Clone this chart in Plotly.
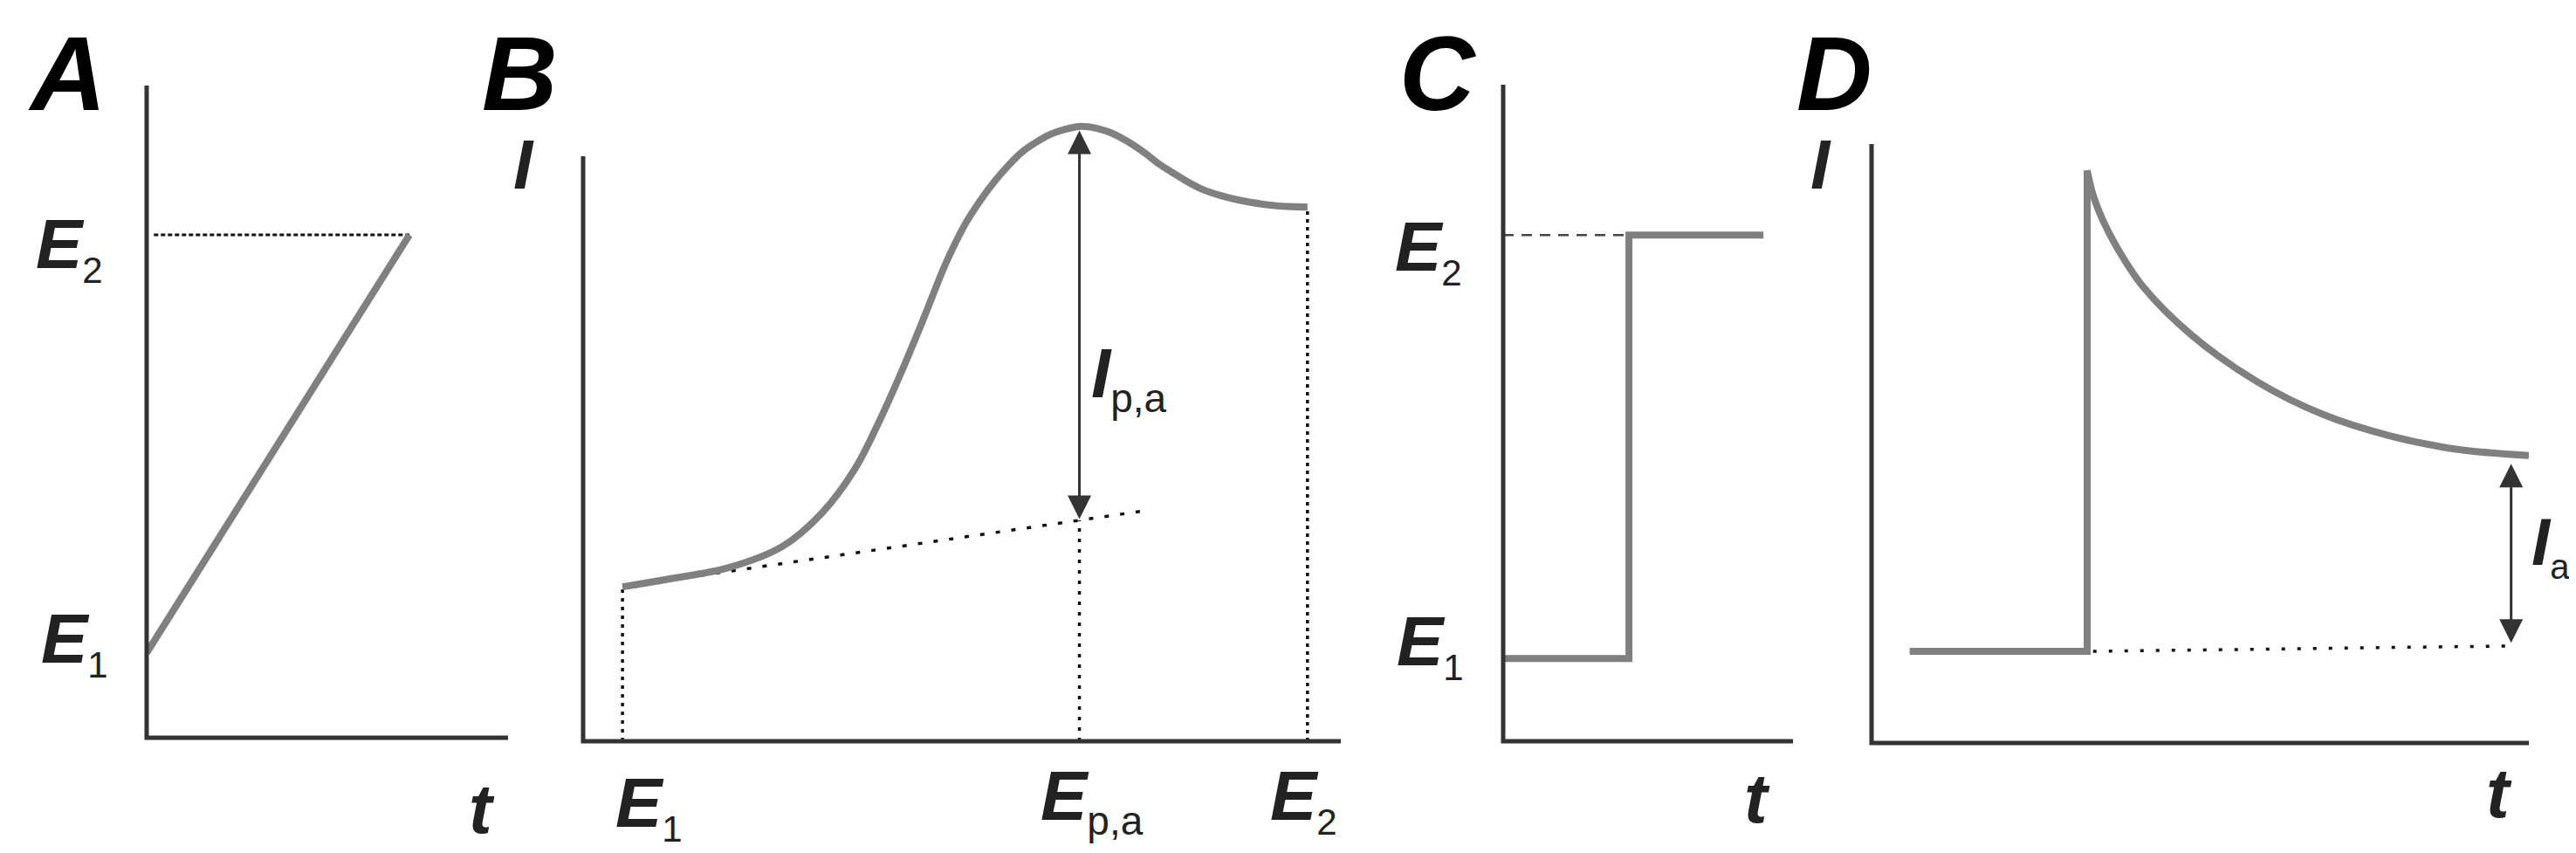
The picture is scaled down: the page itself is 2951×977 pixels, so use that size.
import numpy as np
import plotly.graph_objects as go

W, H = 2951, 977
CURVE = "#808080"
AXIS = "#333333"
INK = "#222222"
FONT = "Liberation Sans, Arial, sans-serif"

# ---- data (values in % of each panel's axis length) ----

# A: linear potential ramp E(t)
ramp_t = [0.0, 72.7]
ramp_E = [13.0, 77.1]

# B: linear sweep voltammogram I(E)
lsv_E = [5.2, 11.6, 19.0, 26.3, 31.5, 35.8, 38.8, 41.7, 44.7, 47.6, 49.1, 50.6,
         52.4, 54.3, 56.1, 57.9, 59.8, 61.6, 63.6, 65.7, 67.7, 69.7, 71.9, 74.1,
         76.0, 77.8, 79.7, 81.8, 84.1, 86.6, 91.0, 95.6]
lsv_I = [26.4, 27.8, 29.6, 33.3, 39.0, 46.4, 53.9, 62.2, 71.5, 80.9, 85.1, 88.8,
         92.4, 95.7, 98.4, 100.7, 102.4, 103.7, 104.6, 105.1, 104.8, 104.0, 102.5, 100.6,
         98.7, 97.2, 95.7, 94.3, 93.3, 92.5, 91.6, 91.3]
lsv_base_E = [5.2, 74.1]
lsv_base_I = [26.4, 39.4]
E_peak = 65.5
I_peak = 104.4

# C: potential step E(t)
step_t = [0.0, 43.4, 89.8]
step_E = [12.6, 77.1, 77.1]

# D: chronoamperogram I(t)
ca_step_t = [5.8, 32.8, 32.8]
ca_step_I = [15.3, 15.3, 95.6]
ca_decay_t = [32.8, 33.7, 35.1, 37.1, 41.3, 48.7, 58.7, 68.8, 78.8, 88.7, 100.0]
ca_decay_I = [95.6, 91.5, 87.5, 83.2, 76.2, 68.1, 60.3, 54.8, 51.3, 49.1, 48.0]
ca_base_t = [33.7, 96.9]
ca_base_I = [15.3, 16.2]
t_meas = 97.3
I_meas_top = 46.6
I_meas_bottom = 16.5

# ---- panel boxes in pixels: x extent, y axis bottom, axis top, plot top ----
panels = {
    "": dict(x=(160, 574), y0=837, ytop=90, yplot=90),
    "2": dict(x=(660, 1528), y0=841, ytop=171, yplot=120),
    "3": dict(x=(1714, 2046), y0=841, ytop=89, yplot=89),
    "4": dict(x=(2136, 2889), y0=843, ytop=157, yplot=157),
}

fig = go.Figure()
layout = dict(width=W, height=H, margin=dict(l=0, r=0, t=0, b=0),
              paper_bgcolor="white", plot_bgcolor="white", showlegend=False)
shapes = []
for k, p in panels.items():
    ax_span = p["y0"] - p["ytop"]
    top_val = 100 * (p["y0"] - p["yplot"]) / ax_span
    layout["xaxis" + k] = dict(domain=[p["x"][0] / W, p["x"][1] / W], range=[0, 100],
                               visible=False, anchor="y" + k)
    layout["yaxis" + k] = dict(domain=[1 - p["y0"] / H, 1 - p["yplot"] / H],
                               range=[0, top_val], visible=False, anchor="x" + k)
    ytop_dom = 100 / top_val
    shapes.append(dict(type="path", xref="x%s domain" % k, yref="y%s domain" % k,
                       path="M 0,%.4f L 0,0 L 1,0" % ytop_dom,
                       line=dict(color=AXIS, width=5)))
layout["shapes"] = shapes
fig.update_layout(**layout)


def line(x, y, ax, color=CURVE, width=8, dash="solid", shape="linear"):
    ln = dict(color=color, width=width, dash=dash, shape=shape)
    if shape == "spline":
        ln["smoothing"] = 1.0
    fig.add_trace(go.Scatter(x=x, y=y, mode="lines", xaxis="x" + ax, yaxis="y" + ax,
                             line=ln, hoverinfo="skip"))


# A
line([2.0, ramp_t[1]], [ramp_E[1], ramp_E[1]], "", color="#111", width=3, dash="5px,3px")
line(ramp_t, ramp_E, "")

# B
line([lsv_E[0], lsv_E[0]], [0, lsv_I[0]], "2", color="#111", width=3.5, dash="4px,6px")
I_base_pk = float(np.interp(E_peak, lsv_base_E, lsv_base_I))
line([E_peak, E_peak], [0, I_base_pk], "2", color="#111", width=3.5, dash="4px,8px")
line([lsv_E[-1], lsv_E[-1]], [0, lsv_I[-1]], "2", color="#111", width=3.5, dash="4px,5px")
line(lsv_base_E, lsv_base_I, "2", color="#111", width=3.5, dash="5px,13px")
line(lsv_E, lsv_I, "2", shape="spline")

# C
line([0, step_t[1]], [step_E[1], step_E[1]], "3", color="#444", width=2.5, dash="12px,9px")
line(step_t, step_E, "3", shape="hv")

# D
line(ca_base_t, ca_base_I, "4", color="#111", width=3.5, dash="4px,14px")
line(ca_step_t, ca_step_I, "4")
line(ca_decay_t, ca_decay_I, "4", shape="spline")

annotations = [
    dict(xref="x2", yref="y2", axref="x2", ayref="y2", x=E_peak, y=I_peak,
         ax=E_peak, ay=I_base_pk),
    dict(xref="x4", yref="y4", axref="x4", ayref="y4", x=t_meas, y=I_meas_top,
         ax=t_meas, ay=I_meas_bottom),
]
for a in annotations:
    a.update(text="", showarrow=True, arrowside="end+start", arrowhead=2,
             startarrowhead=2, arrowsize=1.8, startarrowsize=1.8, arrowwidth=3,
             arrowcolor=AXIS)


def sub(s, size):
    return "<sub><span style='font-size:%dpx'>%s</span></sub>" % (size, s)


def label(text, x_px, y_px, size, color=INK):
    annotations.append(dict(text=text, xref="paper", yref="paper", x=x_px / W, y=1 - y_px / H,
                            xanchor="left", yanchor="middle", showarrow=False,
                            font=dict(family=FONT, size=size, color=color)))


E = "<b><i>E</i></b>"
I = "<b><i>I</i></b>"
T = "<b><i>t</i></b>"

for letter, x in zip("ABCD", [22, 542, 1593, 2048]):
    label("<b><i>%s</i></b>" % letter, x, 76, 120, color="black")

label(E + sub("2", 42), 31, 276, 80)
label(E + sub("1", 42), 37, 728, 80)
label(T, 527, 918, 80)

label(I, 578, 180, 80)
label(E + sub("1", 42), 695, 916, 80)
label(E + sub("p,a", 46), 1182, 908, 80)
label(E + sub("2", 42), 1445, 908, 80)
label(I + sub("p,a", 46), 1240, 424, 80)

label(E + sub("2", 42), 1588, 279, 80)
label(E + sub("1", 42), 1590, 731, 80)
label(T, 1988, 906, 80)

label(I, 2064, 180, 80)
label(I + sub("a", 40), 2890, 616, 76)
label(T, 2838, 900, 80)

fig.update_layout(annotations=annotations)
fig.write_html("out.html")
